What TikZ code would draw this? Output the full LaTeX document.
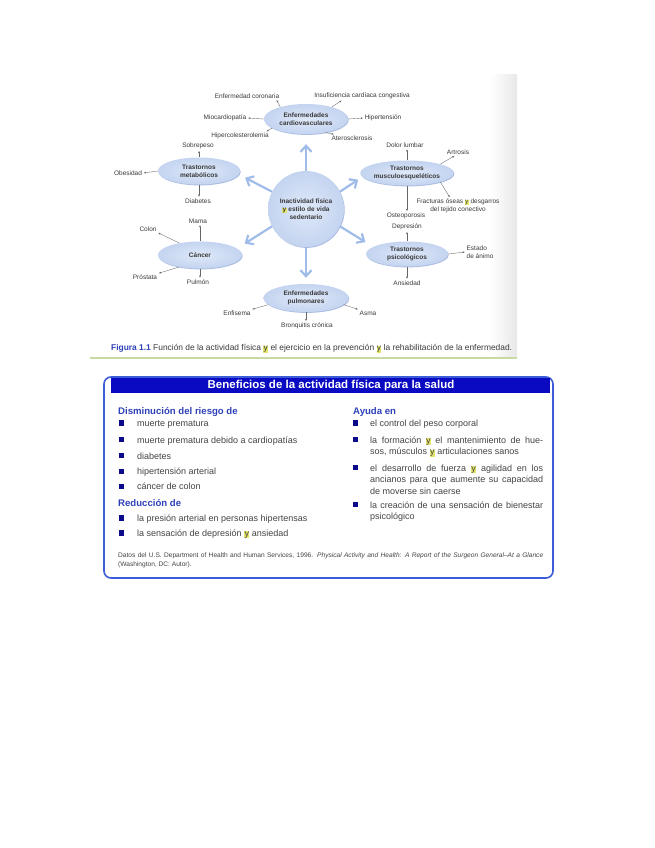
\documentclass[tikz,border=0pt]{standalone}
\usepackage{fontspec}
\setmainfont{Liberation Sans}
\usetikzlibrary{shapes.geometric,arrows.meta,shadows}
\definecolor{ellin}{HTML}{DEE8F8}
\definecolor{ellout}{HTML}{C4D4F0}
\definecolor{ellshadow}{HTML}{9DB3DD}
\definecolor{bigarrow}{HTML}{A0BCE8}
\definecolor{txt}{HTML}{3A3A3A}
\definecolor{bodytxt}{HTML}{444444}
\definecolor{leafc}{HTML}{666666}
\definecolor{hl}{HTML}{E4E36A}
\definecolor{hdr}{HTML}{0A0AC2}
\definecolor{boxborder}{HTML}{3C5CD8}
\definecolor{subhd}{HTML}{2E40B8}
\definecolor{bullet}{HTML}{0A0A8A}
\definecolor{greenline}{HTML}{C9D9A2}
\newcommand{\hly}{{\setlength{\fboxsep}{0.3pt}\colorbox{hl}{y}}}
\tikzset{
  ell/.style={ellipse, minimum width=84pt, minimum height=27pt, inner sep=0pt,
    shade, inner color=ellin, outer color=ellout,
    drop shadow={shadow xshift=0.7pt, shadow yshift=-0.9pt, fill=ellshadow, opacity=0.85},
    font=\bfseries\fontsize{6.5}{8}\selectfont, text=txt, align=center},
  hub/.style={circle, minimum size=76pt, inner sep=0pt,
    shade, inner color=ellin, outer color=ellout,
    drop shadow={shadow xshift=0.7pt, shadow yshift=-0.9pt, fill=ellshadow, opacity=0.85},
    font=\bfseries\fontsize{6.5}{8}\selectfont, text=txt, align=center},
  leaf/.style={font=\fontsize{6.5}{8}\selectfont, text=txt, inner sep=1pt},
  la/.style={draw=leafc, line width=0.35pt, -{Latex[length=2.2pt,width=1.8pt]}, shorten >=0.5pt},
  big/.style={draw=bigarrow, line width=2.2pt, -{Straight Barb[length=6pt,width=11pt]}},
  bul/.style={rectangle, fill=bullet, minimum size=5.5pt, inner sep=0pt},
  body/.style={anchor=base west, inner sep=0pt, font=\fontsize{9}{11}\selectfont, text=bodytxt},
  subh/.style={anchor=base west, inner sep=0pt, font=\bfseries\fontsize{9.6}{11}\selectfont, text=subhd},
}
\begin{document}
\begin{tikzpicture}[x=1pt,y=-1pt]
\useasboundingbox (0,0) rectangle (655,848);
\fill[white] (0,0) rectangle (655,848);
% top figure background strip and bottom line
\shade[left color=white, right color=gray!18] (490,75) rectangle (517,357);
\draw[greenline, line width=1.3pt] (90,358) -- (517,358);

% central hub and ellipses
\node[hub] (c) at (306,209) {Inactividad física\\\hly{} estilo de vida\\sedentario};
\node[ell, minimum height=30pt] (cv) at (306,119) {Enfermedades\\cardiovasculares};
\node[ell, minimum width=82pt] (met) at (199,171) {Trastornos\\metabólicos};
\node[ell, minimum width=82pt, minimum height=25pt] (mus) at (407,173) {Trastornos\\musculoesqueléticos};
\node[ell] (can) at (200,255) {Cáncer};
\node[ell, minimum width=82pt, minimum height=25pt] (psi) at (407,254) {Trastornos\\psicológicos};
\node[ell, minimum width=85pt, minimum height=28pt] (pul) at (306,298) {Enfermedades\\pulmonares};

% big arrows
\draw[big, shorten >=10pt] (c.north) -- (cv.south);
\draw[big, shorten >=6pt] (c.south) -- (pul.north);
\draw[big, shorten >=7pt] (c.153) -- (met.-5);
\draw[big, shorten >=5pt] (c.27) -- (mus.185);
\draw[big, shorten >=9pt] (c.207) -- (can.10);
\draw[big, shorten >=9pt] (c.-27) -- (psi.168);

% leaves: cardiovasculares
\node[leaf] (ec) at (247,96) {Enfermedad coronaria};
\node[leaf] (ic) at (362,96) {Insuficiencia cardíaca congestiva};
\node[leaf] (mio) at (225,118) {Miocardiopatía};
\node[leaf] (hip) at (383,118) {Hipertensión};
\node[leaf] (hcol) at (240,136) {Hipercolesterolemia};
\node[leaf] (ate) at (352,138) {Aterosclerosis};
\draw[la] (cv.155) -- ([xshift=-4pt]ec.south east);
\draw[la] (cv.25) -- ([xshift=-20pt]ic.south);
\draw[la] (cv.west) -- (mio.east);
\draw[la] (cv.east) -- (hip.west);
\draw[la] (cv.195) -- ([xshift=-4pt]hcol.north east);
\draw[la] (cv.-35) -- ([xshift=4pt]ate.north west);

% metabolicos
\node[leaf] (sob) at (198,146) {Sobrepeso};
\node[leaf] (obe) at (128,173) {Obesidad};
\node[leaf] (dia) at (198,201) {Diabetes};
\draw[la] (met.north) -- (met.north |- sob.south);
\draw[la] (met.west) -- (obe.east);
\draw[la] (met.south) -- (met.south |- dia.north);

% musculoesqueleticos
\node[leaf] (dol) at (405,145) {Dolor lumbar};
\node[leaf] (art) at (458,152) {Artrosis};
\node[leaf, align=center, font=\fontsize{6.5}{8}\selectfont] (fra) at (458,206) {Fracturas óseas \hly{} desgarros\\del tejido conectivo};
\node[leaf] (ost) at (406,216) {Osteoporosis};
\draw[la] (mus.north) -- (mus.north |- dol.south);
\draw[la] (mus.15) -- ([xshift=-3pt]art.south);
\draw[la] (mus.-15) -- ([xshift=-8pt]fra.north);
\draw[la] (mus.south) -- (mus.south |- ost.north);

% cancer
\node[leaf] (mam) at (198,221) {Mama};
\node[leaf] (col) at (148,229) {Colon};
\node[leaf] (pro) at (145,277) {Próstata};
\node[leaf] (pulm) at (198,282) {Pulmón};
\draw[la] (can.north) -- (can.north |- mam.south);
\draw[la] (can.150) -- (col.south east);
\draw[la] (can.210) -- (pro.north east);
\draw[la] (can.south) -- (can.south |- pulm.north);

% psicologicos
\node[leaf] (dep) at (407,227) {Depresión};
\node[leaf, align=left] (est) at (480,252) {Estado\\de ánimo};
\node[leaf] (ans) at (407,283) {Ansiedad};
\draw[la] (psi.north) -- (psi.north |- dep.south);
\draw[la] (psi.east) -- (est.west);
\draw[la] (psi.south) -- (psi.south |- ans.north);

% pulmonares
\node[leaf] (enf) at (237,313) {Enfisema};
\node[leaf] (asm) at (368,313) {Asma};
\node[leaf] (bro) at (307,326) {Bronquitis crónica};
\draw[la] (pul.190) -- (enf.north east);
\draw[la] (pul.-10) -- (asm.north west);
\draw[la] (pul.south) -- (pul.south |- bro.north);

% caption
\node[anchor=base west, inner sep=0pt, font=\fontsize{8.4}{9}\selectfont, text=txt] (cap) at (111,350.5)
  {\textcolor{subhd}{\bfseries Figura 1.1} Función de la actividad física \hly{} el ejercicio en la prevención \hly{} la rehabilitación de la enfermedad.};

% box
\draw[boxborder, line width=1.6pt, rounded corners=7pt] (104,377) rectangle (553,578);
\fill[hdr] (111,377.6) rectangle (549.5,392.5);
\node[font=\bfseries\fontsize{11.5}{12}\selectfont, text=white, inner sep=0pt] (hd) at (331,385.5) {Beneficios de la actividad física para la salud};

% left column
\node[subh] (h1) at (118,414.7) {Disminución del riesgo de};
\node[bul] (b1) at (121.5,423) {};
\node[body] (l1) at (137,426.3) {muerte prematura};
\node[bul] (b2) at (121.5,439.7) {};
\node[body] (l2) at (137,443) {muerte prematura debido a cardiopatías};
\node[bul] (b3) at (121.5,455.7) {};
\node[body] (l3) at (137,459) {diabetes};
\node[bul] (b4) at (121.5,471.4) {};
\node[body] (l4) at (137,474.7) {hipertensión arterial};
\node[bul] (b5) at (121.5,486.4) {};
\node[body] (l5) at (137,489.7) {cáncer de colon};
\node[subh] (h2) at (118,506.3) {Reducción de};
\node[bul] (b6) at (121.5,518) {};
\node[body] (l6) at (137,521.3) {la presión arterial en personas hipertensas};
\node[bul] (b7) at (121.5,533) {};
\node[body] (l7) at (137,536.3) {la sensación de depresión \hly{} ansiedad};

% right column
\node[subh] (h3) at (353,414.7) {Ayuda en};
\node[bul] (r1b) at (355.5,423) {};
\node[body] (r1) at (370,426.3) {el control del peso corporal};
\node[bul] (r2b) at (355.5,439.7) {};
\node[body] (r2a) at (370,443) {\makebox[173pt][s]{la formación \hly{} el mantenimiento de hue-}};
\node[body] (r2c) at (370,454.7) {sos, músculos \hly{} articulaciones sanos};
\node[bul] (r3b) at (355.5,467.7) {};
\node[body] (r3a) at (370,471) {\makebox[173pt][s]{el desarrollo de fuerza \hly{} agilidad en los}};
\node[body] (r3c) at (370,482.7) {\makebox[173pt][s]{ancianos para que aumente su capacidad}};
\node[body] (r3d) at (370,494.3) {de moverse sin caerse};
\node[bul] (r4b) at (355.5,504.7) {};
\node[body] (r4a) at (370,508) {\makebox[173pt][s]{la creación de una sensación de bienestar}};
\node[body] (r4c) at (370,519.7) {psicológico};

% source
\node[anchor=base west, inner sep=0pt, font=\fontsize{6.6}{8}\selectfont, text=bodytxt] (src1) at (118,557)
  {\makebox[425pt][s]{Datos del U.S. Department of Health and Human Services, 1996. \textit{Physical Activity and Health: A Report of the Surgeon General–At a Glance}}};
\node[anchor=base west, inner sep=0pt, font=\fontsize{6.6}{8}\selectfont, text=bodytxt] (src2) at (118,566.5)
  {(Washington, DC: Autor).};
\end{tikzpicture}
\end{document}
